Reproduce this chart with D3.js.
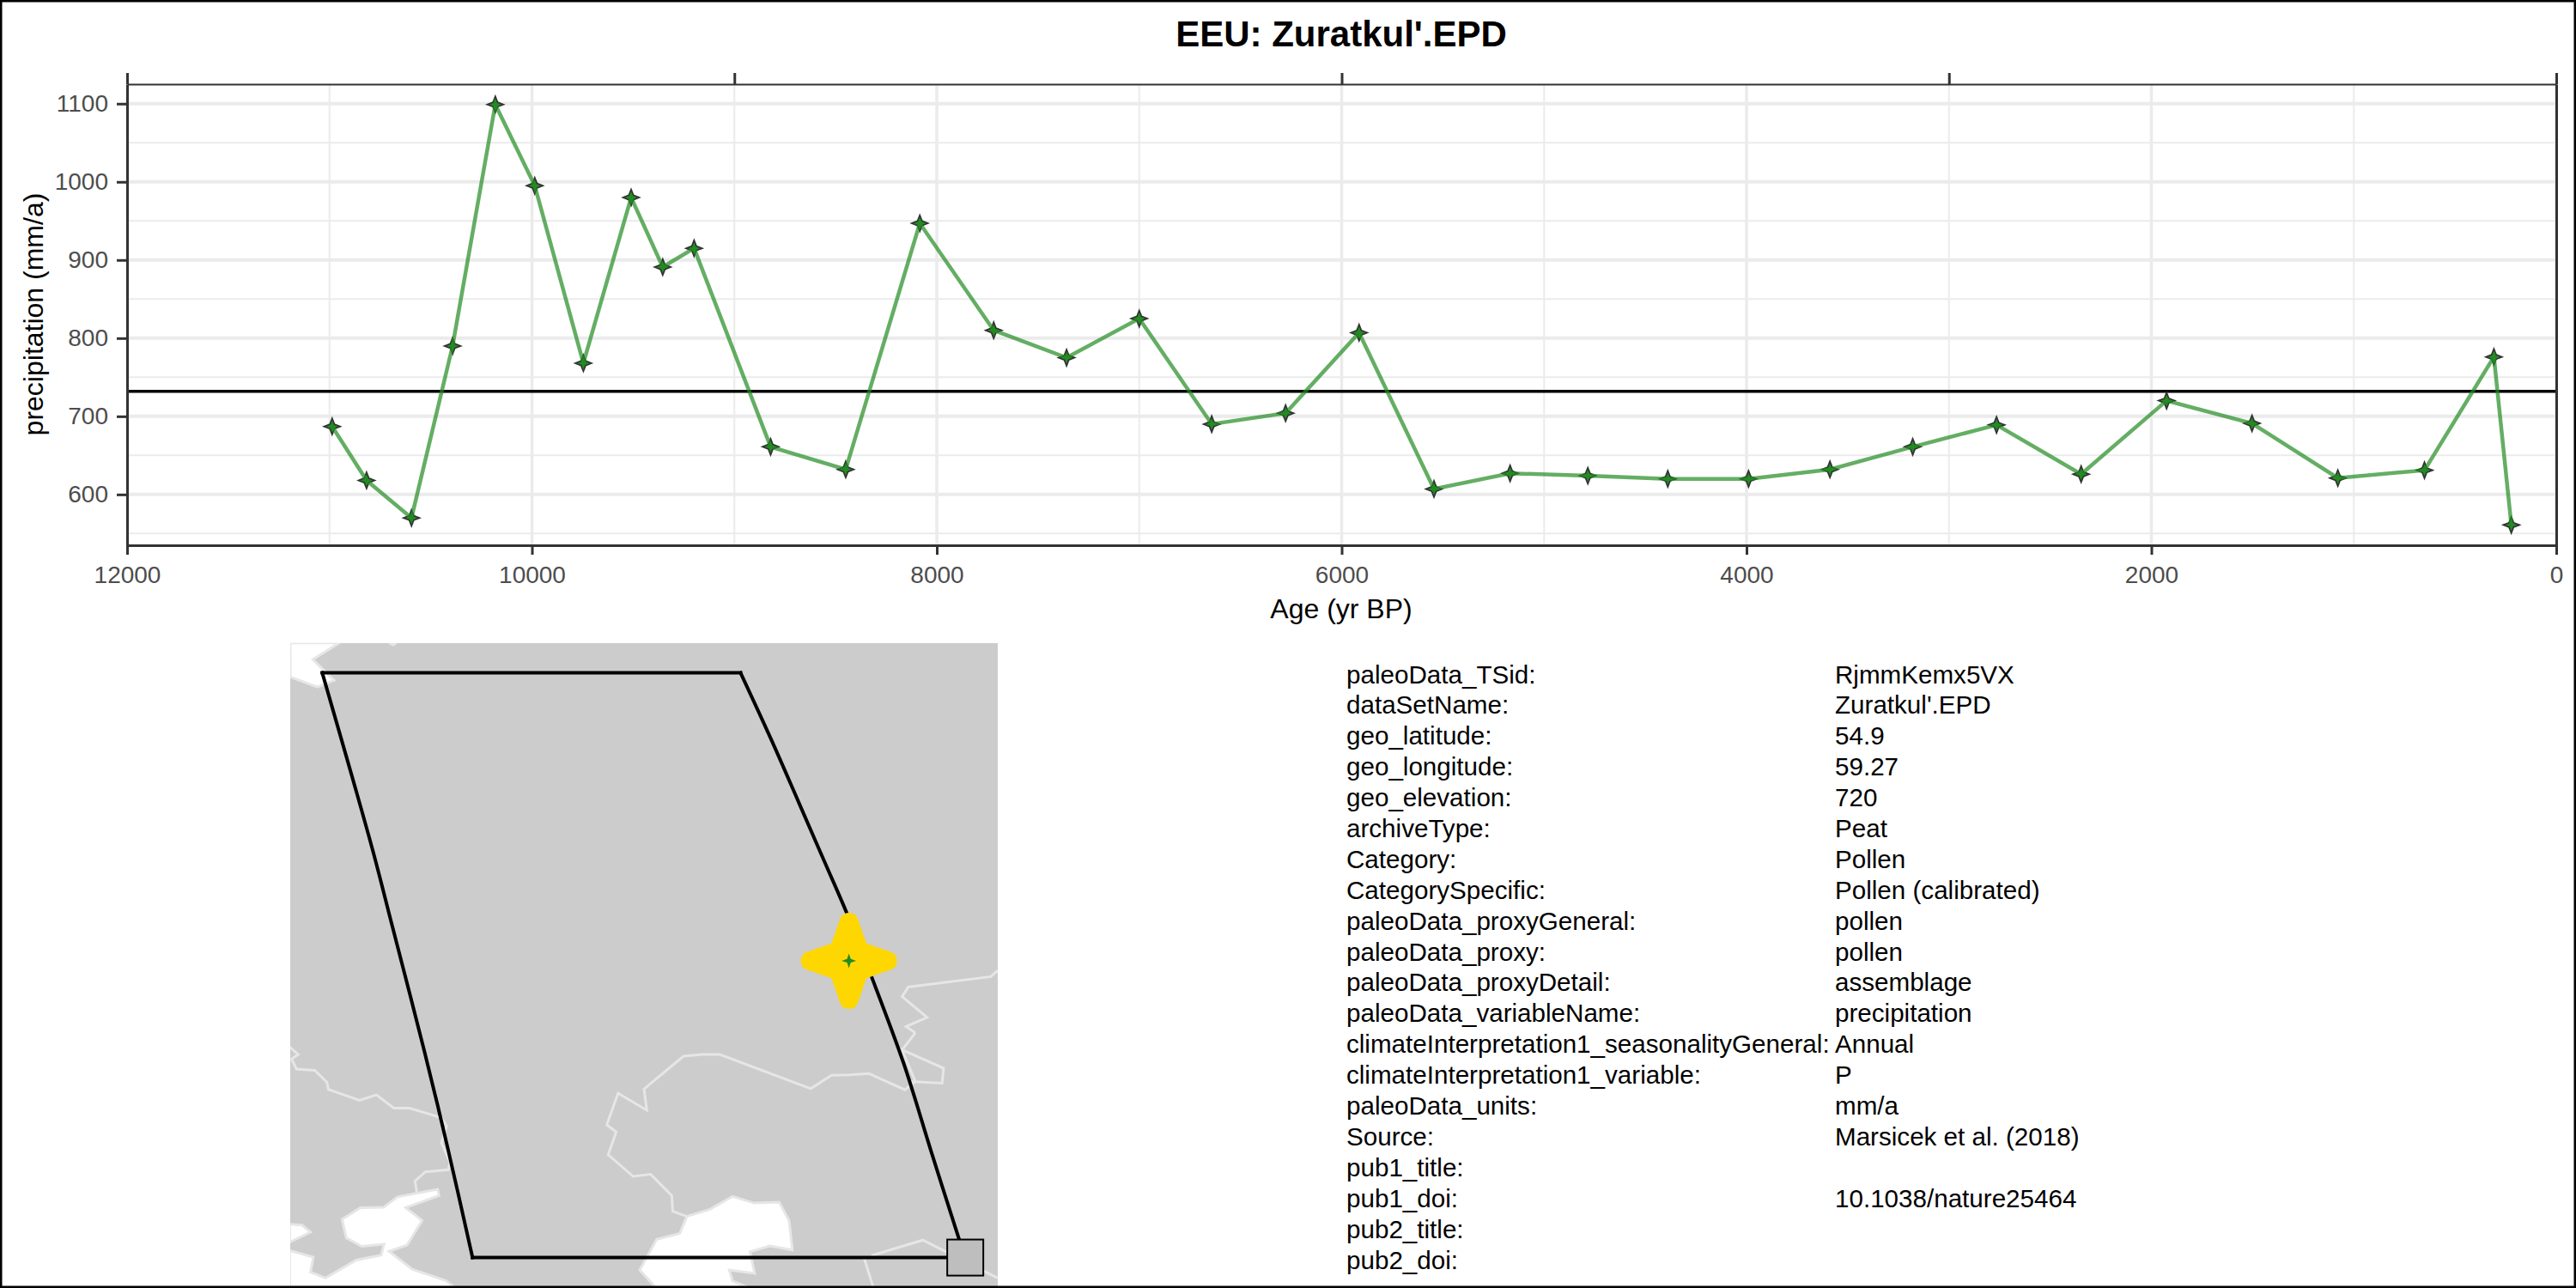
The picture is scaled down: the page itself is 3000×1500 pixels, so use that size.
<!DOCTYPE html>
<html>
<head>
<meta charset="utf-8">
<script src="https://cdn.jsdelivr.net/npm/d3@7"></script>
<style>
  html, body { margin: 0; padding: 0; background: #fff; }
  svg { display: block; }
  text { font-family: "Liberation Sans", Arial, sans-serif; }
</style>
</head>
<body>
<div id="chart"></div>
<script>
// time series
var ages = [10987, 10817, 10595, 10392, 10181, 9986, 9746, 9510, 9354, 9199, 8821, 8450,
            8084, 7719, 7359, 7000, 6642, 6277, 5914, 5544, 5168, 4784, 4389,
            3990, 3588, 3179, 2765, 2347, 1925, 1503, 1079, 651, 308, 222];
var precip = [687, 618, 570, 790, 1099, 995, 768, 980, 891, 915, 661, 632,
              947, 810, 775, 825, 690, 704, 807, 607, 627, 624, 620,
              620, 632, 661, 689, 626, 720, 691, 621, 631, 776, 561];
var meanPrecip = 732;

var xMajor = [12000, 10000, 8000, 6000, 4000, 2000, 0];
var xMinor = [11000, 9000, 7000, 5000, 3000, 1000];
var xTop = [12000, 9000, 6000, 3000, 0];
var yMajor = [600, 700, 800, 900, 1000, 1100];
var yMinor = [550, 650, 750, 850, 950, 1050];

var metaKeys = ["paleoData_TSid:", "dataSetName:", "geo_latitude:", "geo_longitude:", "geo_elevation:",
                "archiveType:", "Category:", "CategorySpecific:", "paleoData_proxyGeneral:", "paleoData_proxy:",
                "paleoData_proxyDetail:", "paleoData_variableName:", "climateInterpretation1_seasonalityGeneral:",
                "climateInterpretation1_variable:", "paleoData_units:", "Source:", "pub1_title:", "pub1_doi:",
                "pub2_title:", "pub2_doi:"];
var metaValues = ["RjmmKemx5VX", "Zuratkul'.EPD", "54.9", "59.27", "720", "Peat", "Pollen", "Pollen (calibrated)",
                  "pollen", "pollen", "assemblage", "precipitation", "Annual", "P", "mm/a", "Marsicek et al. (2018)",
                  "", "10.1038/nature25464", "", ""];

// map outlines, in the map's own units
var mapSeas = [
  [[33,18],[137,18],[81,58],[126,108],[91,124],[33,100]],
  [[32,1415],[58,1417],[76,1434],[32,1458]],
  [[32,1478],[82,1494],[76,1530],[108,1544],[173,1501],[226,1489],[232,1463],[185,1468],[152,1448],[143,1403],
   [182,1375],[231,1374],[261,1349],[346,1331],[349,1346],[278,1375],[313,1406],[281,1465],[243,1480],[292,1523],
   [365,1551],[380,1566],[32,1566]],
  [[875,1396],[924,1379],[972,1348],[1018,1364],[1071,1362],[1092,1406],[1099,1477],[1051,1467],[1009,1481],
   [1019,1533],[965,1525],[972,1551],[1003,1566],[808,1566],[775,1525],[811,1451],[860,1437]]
];
var mapBorders = [
  [[32,989],[50,1007],[36,1018],[46,1042],[85,1045],[111,1074],[114,1091],[180,1117],[216,1104],[253,1136],[286,1136],
   [354,1159],[365,1179],[354,1219],[372,1265],[369,1284],[320,1289],[298,1311],[302,1341]],
  [[875,1396],[845,1384],[843,1346],[798,1295],[761,1300],[708,1248],[725,1193],[705,1176],[729,1100],[790,1141],
   [784,1090],[868,1011],[908,1007],[945,1007],[1138,1089],[1182,1057],[1221,1056],[1262,1053],[1338,1092],[1360,1072],
   [1332,996],[1420,1040],[1417,1076],[1350,1072]],
  [[1360,955],[1332,996]],
  [[1360,955],[1340,940],[1385,918],[1332,868],[1345,845],[1520,820],[1535,805]],
  [[1267,1490],[1376,1453],[1505,1527],[1535,1544]],
  [[1252,1499],[1270,1564]],
  [[243,18],[252,23],[258,18]]
];
var regionLeft = [[101,90],[167,350],[209,520],[250,700],[318,1000],[367,1230],[420,1495]];
var regionRight = [[989,90],[1054,250],[1112,400],[1163,533],[1214,666],[1267,820],[1336,1031],[1395,1245],[1454,1455],[1466,1495]];
var regionTop = [[101,90],[989,90]];
var regionBottom = [[420,1495],[1466,1495]];
var regionAnchor = [1466, 1495];
var sitePoint = [1219, 782];

var width = 3000, height = 1500;
var panel = {left: 148, right: 2977, top: 98, bottom: 635};

var svg = d3.select("#chart").append("svg")
    .attr("width", width)
    .attr("height", height);

svg.append("rect")
    .attr("width", width)
    .attr("height", height)
    .attr("fill", "#fff");

var x = d3.scaleLinear().domain([12000, 0]).range([panel.left, panel.right]);
var y = d3.scaleLinear().domain([535, 1125]).range([panel.bottom, panel.top]);

// four pointed star, ratio sets how deep the waist is
var star4 = function(ratio) {
    return {
	draw: function(context, size) {
	    var r = Math.sqrt(size), c = r * ratio;
	    context.moveTo(r, 0);
	    context.lineTo(c, c);
	    context.lineTo(0, r);
	    context.lineTo(-c, c);
	    context.lineTo(-r, 0);
	    context.lineTo(-c, -c);
	    context.lineTo(0, -r);
	    context.lineTo(c, -c);
	    context.closePath();
	}
    };
};

// grid
var grid = svg.append("g").attr("stroke", "#ebebeb").attr("fill", "none");
var addV = function(vals, w) {
    grid.selectAll(null).data(vals).enter().append("line")
	.attr("x1", x).attr("x2", x)
	.attr("y1", panel.top).attr("y2", panel.bottom)
	.attr("stroke-width", w);
};
var addH = function(vals, w) {
    grid.selectAll(null).data(vals).enter().append("line")
	.attr("y1", y).attr("y2", y)
	.attr("x1", panel.left).attr("x2", panel.right)
	.attr("stroke-width", w);
};
addV(xMinor, 2);
addH(yMinor, 2);
addV(xMajor, 3.5);
addH(yMajor, 4);

// mean line
svg.append("line")
    .attr("x1", panel.left).attr("x2", panel.right)
    .attr("y1", y(meanPrecip)).attr("y2", y(meanPrecip))
    .attr("stroke", "#000")
    .attr("stroke-width", 3.6);

// series
var points = ages.map(function(a, i) { return [a, precip[i]]; });
var line = d3.line().x(function(d) { return x(d[0]); }).y(function(d) { return y(d[1]); });

var marker = d3.symbol().type(star4(0.28)).size(9.5 * 9.5);
svg.append("g").selectAll("path").data(points).enter().append("path")
    .attr("d", marker)
    .attr("transform", function(d) { return "translate(" + x(d[0]) + "," + y(d[1]) + ")"; })
    .attr("fill", "#228b22")
    .attr("stroke", "#333")
    .attr("stroke-width", 1.7);

svg.append("path")
    .attr("d", line(points))
    .attr("fill", "none")
    .attr("stroke", "#228b22")
    .attr("stroke-opacity", 0.7)
    .attr("stroke-width", 4.5);

// axes
var styleAxis = function(g, domainWidth) {
    g.selectAll(".domain").attr("stroke", "#333").attr("stroke-width", domainWidth);
    g.selectAll(".tick line").attr("stroke", "#333").attr("stroke-width", 3);
    g.selectAll(".tick text")
	.attr("fill", "#4d4d4d")
	.style("font-family", "'Liberation Sans', Arial, sans-serif")
	.style("font-size", "28px");
};

var bottomAxis = svg.append("g")
    .attr("transform", "translate(0," + panel.bottom + ")")
    .call(d3.axisBottom(x).tickValues(xMajor).tickFormat(d3.format("d")).tickSize(11).tickSizeOuter(0).tickPadding(13));
styleAxis(bottomAxis, 3);

var leftAxis = svg.append("g")
    .attr("transform", "translate(" + panel.left + ",0)")
    .call(d3.axisLeft(y).tickValues(yMajor).tickFormat(d3.format("d")).tickSize(12).tickSizeOuter(0).tickPadding(10));
styleAxis(leftAxis, 3);

var topAxis = svg.append("g")
    .attr("transform", "translate(0," + panel.top + ")")
    .call(d3.axisTop(x).tickValues(xTop).tickFormat("").tickSize(13).tickSizeOuter(0));
styleAxis(topAxis, 2);

var rightAxis = svg.append("g")
    .attr("transform", "translate(" + panel.right + ",0)")
    .call(d3.axisRight(y).tickValues([]).tickSizeOuter(0));
styleAxis(rightAxis, 3);

// titles
svg.append("text")
    .attr("x", 1562).attr("y", 54)
    .attr("text-anchor", "middle")
    .attr("font-weight", "bold")
    .attr("font-size", 42)
    .text("EEU: Zuratkul'.EPD");

svg.append("text")
    .attr("x", 1562).attr("y", 720)
    .attr("text-anchor", "middle")
    .attr("font-size", 32)
    .text("Age (yr BP)");

svg.append("text")
    .attr("transform", "translate(50,366) rotate(-90)")
    .attr("text-anchor", "middle")
    .attr("font-size", 32)
    .text("precipitation (mm/a)");

// map
var mapX = d3.scaleLinear().domain([33, 1535]).range([338, 1162]);
var mapY = d3.scaleLinear().domain([18, 1564]).range([748.7, 1498]);
var mapLine = d3.line().x(function(d) { return mapX(d[0]); }).y(function(d) { return mapY(d[1]); });
var mapCurve = d3.line().curve(d3.curveCatmullRom).x(function(d) { return mapX(d[0]); }).y(function(d) { return mapY(d[1]); });
svg.append("clipPath").attr("id", "mapClip").append("rect")
    .attr("x", mapX(33)).attr("y", mapY(18))
    .attr("width", mapX(1535) - mapX(33))
    .attr("height", mapY(1564) - mapY(18));

var map = svg.append("g").attr("clip-path", "url(#mapClip)");
map.append("rect")
    .attr("x", mapX(33)).attr("y", mapY(18))
    .attr("width", mapX(1535) - mapX(33))
    .attr("height", mapY(1564) - mapY(18))
    .attr("fill", "#cccccc");
map.selectAll(".sea").data(mapSeas).enter().append("path")
    .attr("class", "sea")
    .attr("d", function(d) { return mapLine(d) + "Z"; })
    .attr("fill", "#fff")
    .attr("stroke", "#e6e6e6")
    .attr("stroke-width", 3);
map.selectAll(".border").data(mapBorders).enter().append("path")
    .attr("class", "border")
    .attr("d", mapLine)
    .attr("fill", "none")
    .attr("stroke", "#e6e6e6")
    .attr("stroke-width", 3);

var regionEdges = svg.append("g")
    .attr("fill", "none")
    .attr("stroke", "#000")
    .attr("stroke-width", 4)
    .attr("stroke-linecap", "square");
regionEdges.append("path").attr("d", mapCurve(regionLeft));
regionEdges.append("path").attr("d", mapCurve(regionRight));
regionEdges.append("path").attr("d", mapLine(regionTop));
regionEdges.append("path").attr("d", mapLine(regionBottom));

svg.append("rect")
    .attr("x", mapX(regionAnchor[0]) - 21)
    .attr("y", mapY(regionAnchor[1]) - 21)
    .attr("width", 42)
    .attr("height", 42)
    .attr("fill", "#bebebe")
    .attr("stroke", "#000")
    .attr("stroke-width", 2);

var siteGroup = svg.append("g")
    .attr("transform", "translate(" + mapX(sitePoint[0]) + "," + mapY(sitePoint[1]) + ")");
siteGroup.append("path")
    .attr("d", d3.symbol().type(star4(0.26)).size(45 * 45))
    .attr("fill", "#ffd700")
    .attr("stroke", "#ffd700")
    .attr("stroke-width", 22)
    .attr("stroke-linejoin", "round");
siteGroup.append("path")
    .attr("d", d3.symbol().type(star4(0.25)).size(8.5 * 8.5))
    .attr("fill", "#228b22");

// metadata table
var rowY = d3.scaleLinear().domain([0, metaKeys.length - 1]).range([795.5, 1477.5]);
var meta = svg.append("g").attr("font-size", 29.6).attr("fill", "#000");
meta.selectAll(".key").data(metaKeys).enter().append("text")
    .attr("class", "key")
    .attr("x", 1568)
    .attr("y", function(d, i) { return rowY(i); })
    .text(function(d) { return d; });
meta.selectAll(".val").data(metaValues).enter().append("text")
    .attr("class", "val")
    .attr("x", 2137)
    .attr("y", function(d, i) { return rowY(i); })
    .text(function(d) { return d; });

// outer frame
svg.append("rect")
    .attr("x", 1).attr("y", 1)
    .attr("width", width - 2)
    .attr("height", height - 2)
    .attr("fill", "none")
    .attr("stroke", "#000")
    .attr("stroke-width", 3);
</script>
</body>
</html>
